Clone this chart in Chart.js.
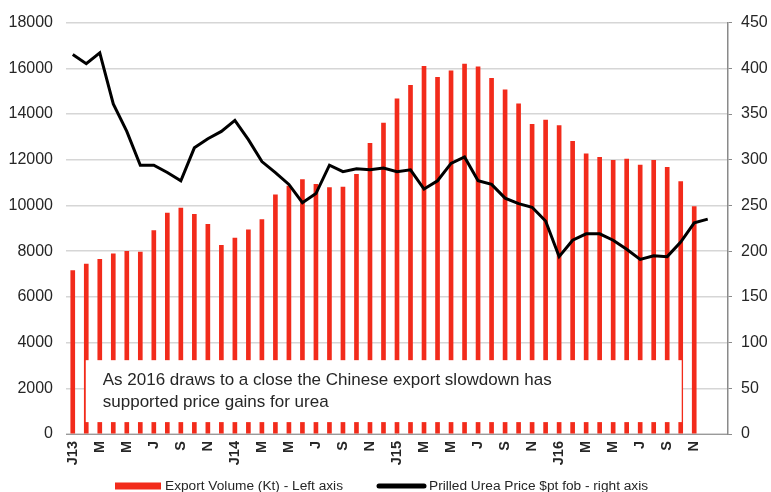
<!DOCTYPE html>
<html>
<head>
<meta charset="utf-8">
<script src="https://cdn.jsdelivr.net/npm/chart.js@4.4.1/dist/chart.umd.min.js"></script>
<style>
  html, body { margin: 0; padding: 0; background: #fff; }
  #wrap { position: relative; width: 771px; height: 492px; }
</style>
</head>
<body>
<div id="wrap"><canvas id="c" width="771" height="492"></canvas></div>
<script>
// Jan 2013 .. Jan 2017 (last slot empty), labels every second month
var months = ["J13","","M","","M","","J","","S","","N","",
              "J14","","M","","M","","J","","S","","N","",
              "J15","","M","","M","","J","","S","","N","",
              "J16","","M","","M","","J","","S","","N","",
              ""];

// Export volume (Kt) - left axis
var exportVolume = [7150,7430,7640,7880,7990,7960,8900,9670,9880,9610,9170,8260,
                    8570,8930,9380,10460,10850,11130,10920,10780,10800,11360,12720,13600,
                    14670,15250,16090,15610,15890,16180,16070,15560,15060,14450,13550,13730,
                    13490,12800,12260,12110,11970,12030,11770,11970,11670,11040,9950,null,
                    null];

// Prilled urea price $pt fob - right axis
var ureaPrice = [415,405,417,361,331,294,294,286,277,313,323,331,
                 343,322,298,286,273,253,263,294,287,290,289,291,
                 287,289,268,277,296,303,277,273,258,252,248,233,
                 194,212,219,219,212,202,191,195,194,210,231,235,
                 null];

var leftTicks = [0, 18000, 2000];
var rightTicks = [0, 450, 50];

var noteLines = ["As 2016 draws to a close the Chinese export slowdown has",
                 "supported price gains for urea"];

var RED = "#F22B1B";
var FONT = "'Liberation Sans', Arial, sans-serif";
var TXT = "#262626";

function plain(v) { return String(v); }

/* white note box over the bars + hand-placed legend */
var overlay = {
  id: "overlay",
  afterDatasetsDraw: function (chart) {
    var ctx = chart.ctx, x = chart.scales.x, y = chart.scales.y;
    var l = x.getPixelForValue(1) - 0.5, r = x.getPixelForValue(45) + 1;
    var t = y.getPixelForValue(3230), b = y.getPixelForValue(520);
    ctx.save();
    ctx.fillStyle = "#fff";
    ctx.fillRect(l, t, r - l, b - t);
    ctx.fillStyle = TXT;
    ctx.font = "17px " + FONT;
    ctx.textBaseline = "middle";
    ctx.fillText(noteLines[0], l + 17, t + 20);
    ctx.fillText(noteLines[1], l + 17, t + 42);
    ctx.restore();
  },
  afterDraw: function (chart) {
    var ctx = chart.ctx, ds = chart.data.datasets, cy = 486;
    ctx.save();
    ctx.fillStyle = RED;
    ctx.fillRect(115, cy - 3.5, 46, 7);
    ctx.strokeStyle = "#000";
    ctx.lineWidth = 5;
    ctx.lineCap = "round";
    ctx.beginPath(); ctx.moveTo(379, cy); ctx.lineTo(424, cy); ctx.stroke();
    ctx.fillStyle = TXT;
    ctx.font = "13.7px " + FONT;
    ctx.textBaseline = "middle";
    ctx.fillText(ds[1].label, 165, cy + 0.5);
    ctx.fillText(ds[0].label, 429, cy + 0.5);
    ctx.restore();
  }
};

new Chart(document.getElementById("c"), {
  type: "bar",
  data: {
    labels: months,
    datasets: [{
      type: "line",
      label: "Prilled Urea Price $pt fob - right axis",
      data: ureaPrice,
      yAxisID: "y2",
      borderColor: "#000",
      borderWidth: 3,
      pointRadius: 0,
      tension: 0,
      order: 0
    }, {
      type: "bar",
      label: "Export Volume (Kt) - Left axis",
      data: exportVolume,
      yAxisID: "y",
      backgroundColor: RED,
      barThickness: 4,
      order: 1
    }]
  },
  options: {
    responsive: false,
    animation: false,
    layout: { padding: { top: 18, left: 0, right: 0, bottom: 0 } },
    plugins: { legend: { display: false }, tooltip: { enabled: false } },
    scales: {
      x: {
        grid: { display: false, drawTicks: false },
        border: { display: true, color: "#9a9a9a", width: 1 },
        ticks: {
          autoSkip: false, minRotation: 90, maxRotation: 90, padding: 7,
          color: TXT, font: { family: FONT, size: 14.5, weight: "bold" }
        },
        afterFit: function (s) { s.height = 58; }
      },
      y: {
        position: "left",
        min: leftTicks[0], max: leftTicks[1],
        grid: { color: "#d6d6d6", lineWidth: 1.5, drawTicks: false },
        border: { display: false },
        ticks: { stepSize: leftTicks[2], padding: 13, color: TXT, font: { family: FONT, size: 16 }, callback: plain },
        afterFit: function (s) { s.width = 66; }
      },
      y2: {
        position: "right",
        min: rightTicks[0], max: rightTicks[1],
        grid: { drawOnChartArea: false, color: "#8a8a8a", tickLength: 4 },
        border: { display: true, color: "#8a8a8a", width: 1.5 },
        ticks: { stepSize: rightTicks[2], padding: 9, color: TXT, font: { family: FONT, size: 16 }, callback: plain },
        afterFit: function (s) { s.width = 43; }
      }
    }
  },
  plugins: [overlay]
});
</script>
</body>
</html>
